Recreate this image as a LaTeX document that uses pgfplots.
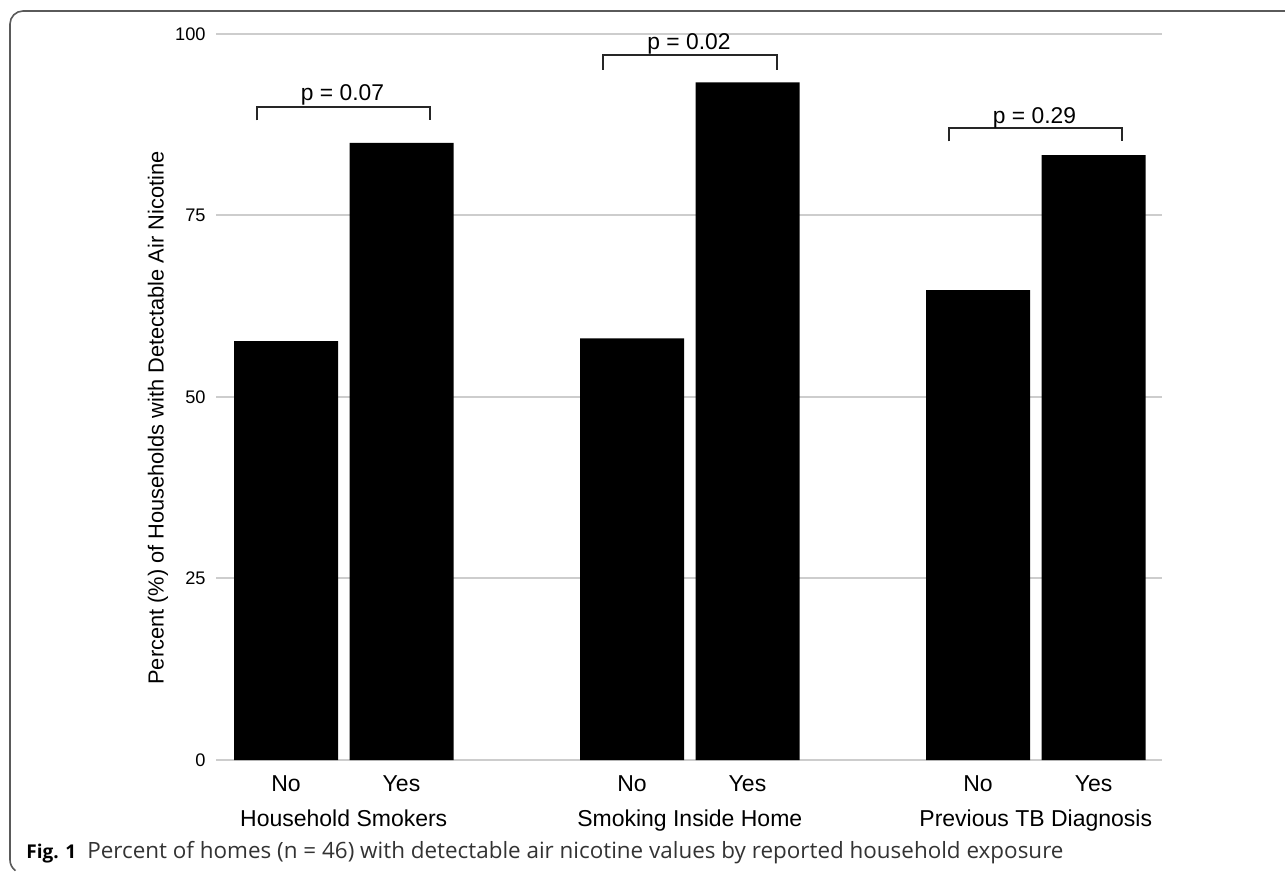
\documentclass[border=0pt]{standalone}
\usepackage{graphicx}
\usepackage{pgfplots}
\pgfplotsset{compat=1.18}
\usepackage{fontspec}
\setmainfont{Liberation Sans}
\newfontfamily\capfont{Open Sans}
\definecolor{gridgray}{RGB}{205,205,205}
\definecolor{framegray}{RGB}{90,90,90}
\begin{document}
\begin{tikzpicture}
\useasboundingbox (0,0) rectangle (642.5pt,436.5pt);
\draw[framegray, line width=0.8pt] (645pt,431pt) -- (11.5pt,431pt) arc[start angle=90, end angle=180, radius=6.5pt] -- (5pt,6.5pt) arc[start angle=180, end angle=235, radius=6.5pt];
\begin{axis}[
  at={(108pt,56.5pt)}, anchor=south west,
  width=473pt, height=363pt, scale only axis,
  xmin=216, xmax=1162, ymin=0, ymax=100,
  clip=false,
  axis line style={draw=none},
  major tick length=0pt,
  ytick={0,25,50,75,100},
  ymajorgrids, grid style={gridgray, line width=1pt},
  xtick={286,401.5,632,747.5,978,1093.5},
  xticklabels={No,Yes,No,Yes,No,Yes},
  xticklabel style={font=\fontsize{11.5}{13}\selectfont, anchor=base, inner sep=0pt, yshift=-15.5pt},
  yticklabel style={font=\fontsize{9.1}{11}\selectfont, anchor=east, inner sep=0pt, xshift=-5pt},
  /pgf/number format/assume math mode=true,
]
\addplot[ybar, bar width=52pt, fill=black, draw=none] coordinates {
  (286,57.69) (401.5,85.00) (632,58.06) (747.5,93.33) (978,64.71) (1093.5,83.33)
};
% significance brackets
\draw[black!85, line width=1pt] (axis cs:257,88.1) -- (axis cs:257,89.9) -- (axis cs:430,89.9) -- (axis cs:430,88.1);
\node[anchor=base, font=\fontsize{11.4}{13}\selectfont, inner sep=0pt] at (axis cs:342.5,90.8) {p = 0.07};
\draw[black!85, line width=1pt] (axis cs:603.3,95.1) -- (axis cs:603.3,97.1) -- (axis cs:776.7,97.1) -- (axis cs:776.7,95.1);
\node[anchor=base, font=\fontsize{11.4}{13}\selectfont, inner sep=0pt] at (axis cs:689,97.8) {p = 0.02};
\draw[black!85, line width=1pt] (axis cs:949,85.2) -- (axis cs:949,87.0) -- (axis cs:1122.3,87.0) -- (axis cs:1122.3,85.2);
\node[anchor=base, font=\fontsize{11.4}{13}\selectfont, inner sep=0pt] at (axis cs:1034.5,87.7) {p = 0.29};
% group labels
\node[anchor=base, font=\fontsize{11.5}{13}\selectfont, inner sep=0pt, yshift=-33.35pt] at (axis cs:343.75,0) {Household Smokers};
\node[anchor=base, font=\fontsize{11.5}{13}\selectfont, inner sep=0pt, yshift=-33.35pt] at (axis cs:689.75,0) {Smoking Inside Home};
\node[anchor=base, font=\fontsize{11.5}{13}\selectfont, inner sep=0pt, yshift=-33.35pt] at (axis cs:1035.75,0) {Previous TB Diagnosis};
% y label
\node[rotate=90, anchor=base, font=\fontsize{10.9}{13}\selectfont, inner sep=0pt] at (axis cs:163.5,47.1) {Percent (\%) of Households with Detectable Air Nicotine};
\end{axis}
\node[anchor=base west, inner sep=0pt, font=\capfont\bfseries\fontsize{9.5}{11}\selectfont] at (13pt,7.5pt) {Fig. 1};
\node[anchor=base west, inner sep=0pt, font=\capfont\fontsize{9.2}{11}\selectfont, text=black!80] at (43.5pt,7.5pt) {\resizebox{488pt}{!}{Percent of homes (n = 46) with detectable air nicotine values by reported household exposure}};
\end{tikzpicture}
\end{document}
